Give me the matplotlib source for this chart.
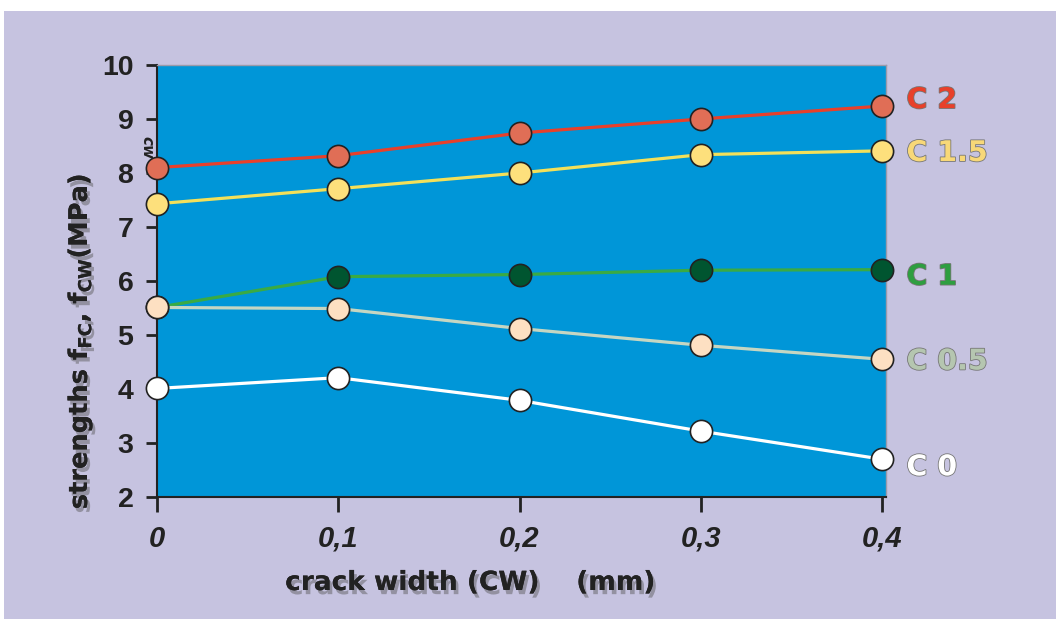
import matplotlib
matplotlib.use("Agg")
import matplotlib.pyplot as plt
import matplotlib.patheffects as pe
from matplotlib.patches import Rectangle

plt.rcParams["font.family"] = ["DejaVu Sans"]
plt.rcParams["mathtext.default"] = "regular"

crack_width = [0.0, 0.1, 0.2, 0.3, 0.4]
x_tick_labels = ["0", "0,1", "0,2", "0,3", "0,4"]
y_ticks = [2, 3, 4, 5, 6, 7, 8, 9, 10]

c2 = [8.10, 8.32, 8.74, 9.00, 9.24]
c15 = [7.43, 7.71, 8.00, 8.34, 8.41]
c1 = [5.51, 6.08, 6.12, 6.20, 6.21]
c05 = [5.51, 5.49, 5.12, 4.81, 4.55]
c0 = [4.01, 4.21, 3.79, 3.22, 2.70]

series_names = ["C 2", "C 1.5", "C 1", "C 0.5", "C 0"]
label_y = [9.35, 8.37, 6.08, 4.51, 2.55]

series = [c2, c15, c1, c05, c0]
line_colors = ["#e8402a", "#f3e05a", "#3aaa44", "#c5d6c2", "#ffffff"]
marker_colors = ["#e06e56", "#fde07c", "#005530", "#fde0c2", "#ffffff"]
text_colors = ["#e8402a", "#f8d878", "#2e9e40", "#b5c6b0", "#ffffff"]

W, H = 1056, 619
fig = plt.figure(figsize=(W / 100, H / 100), dpi=100)
fig.patch.set_facecolor("white")
bg = Rectangle((4 / W, 0), 1 - 4 / W, 1 - 11 / H,
               transform=fig.transFigure, facecolor="#c6c3e0",
               edgecolor="none", zorder=-10)
fig.add_artist(bg)

left, right, top, bottom = 157, 886, 65, 497
ax = fig.add_axes([left / W, 1 - bottom / H, (right - left) / W, (bottom - top) / H])
ax.set_zorder(1)
ax.set_facecolor("#0096d8")

for ys, lc, mc in zip(series, line_colors, marker_colors):
    ax.plot(crack_width, ys, color=lc, lw=2.3, zorder=2, clip_on=False)
for ys, lc, mc in zip(series, line_colors, marker_colors):
    ax.plot(crack_width, ys, linestyle="none", marker="o", markersize=16,
            markerfacecolor=mc, markeredgecolor="#222222", markeredgewidth=1.2,
            zorder=3, clip_on=False)

ax.set_xlim(0, 0.4 * (right - left) / (882 - left))
ax.set_ylim(2, 10)
ax.set_xticks(crack_width)
ax.set_xticklabels(x_tick_labels, fontsize=21, fontweight="bold", style="italic",
                   color="#222222", family="Liberation Sans")
ax.set_yticks(y_ticks)
ax.set_yticklabels([str(v) for v in y_ticks], fontsize=20.5, fontweight="bold",
                   color="#222222", family="Liberation Sans")
ax.tick_params(axis="y", direction="out", length=8, width=2, color="#222222", pad=9)
ax.tick_params(axis="x", direction="out", length=11, width=2, color="#222222", pad=9)
for s in ["left", "bottom"]:
    ax.spines[s].set_color("#222222")
    ax.spines[s].set_linewidth(1.5)
for s in ["top", "right"]:
    ax.spines[s].set_color("#9a9aaa")
    ax.spines[s].set_linewidth(1.0)

shadow = [pe.withSimplePatchShadow(offset=(2, -3), shadow_rgbFace="#555555", alpha=0.45),
          pe.Normal()]

for name, ly, tc in zip(series_names, label_y, text_colors):
    ax.text(0.4 + 0.0135, ly, name, fontsize=20.5, fontweight="bold", color=tc,
            va="center", ha="left", clip_on=False,
            path_effects=[pe.withStroke(linewidth=1.2, foreground="#777777")])

fig.text(80 / W, 1 - 341 / H, r"strengths f$_{FC}$, f$_{CW}$(MPa)", rotation=90,
         fontsize=18.5, fontweight="bold", color="#222222", ha="center", va="center",
         path_effects=shadow)
fig.text(470 / W, 1 - 583 / H, "crack width (CW)    (mm)", fontsize=19,
         fontweight="bold", color="#222222", ha="center", va="center",
         path_effects=shadow)
fig.text(147 / W, 1 - 148 / H, "cw", rotation=-90, fontsize=11, style="italic",
         fontweight="bold", color="#222222", ha="center", va="center")

fig.savefig("out.png", dpi=100)
